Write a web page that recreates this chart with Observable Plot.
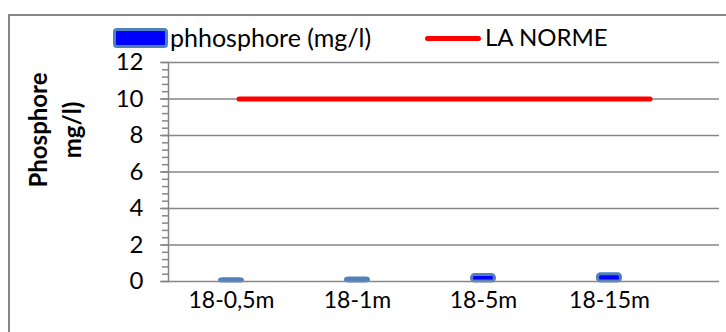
<!DOCTYPE html>
<html>
<head>
<meta charset="utf-8">
<script src="https://cdn.jsdelivr.net/npm/d3@7"></script>
<script src="https://cdn.jsdelivr.net/npm/@observablehq/plot@0.6"></script>
<style>
  html, body { margin: 0; padding: 0; background: #fff; }
  #chart { position: relative; width: 726px; height: 332px; overflow: hidden; background: #fff;
           font-family: Lato, "Liberation Sans", sans-serif; }
  #chart svg { position: absolute; left: 0; top: 0; }
  .border { position: absolute; left: 8px; top: 14px; width: 730px; height: 330px;
            border: 2px solid #868686; box-sizing: border-box; }
  .ytitle { position: absolute; left: 55px; top: 130px; width: 200px;
            transform: translate(-50%, -50%) rotate(-90deg); text-align: center;
            font-weight: bold; font-size: 24px; line-height: 34px; color: #000; }
  .legend { position: absolute; font-size: 24px; color: #000; white-space: nowrap; }
  .sw-bar { position: absolute; left: 113px; top: 28px; width: 55px; height: 20px;
            background: #0000ff; border: 3px solid #4f81bd; border-radius: 4px; box-sizing: border-box; }
  .sw-line { position: absolute; left: 425px; top: 36px; width: 56px; height: 5px;
             background: #ff0000; border-radius: 3px; }
</style>
</head>
<body>
<div id="chart">
  <div class="border"></div>
</div>
<script>
// Sampling points and measured phosphorus (mg/l)
const categories = ["18-0,5m", "18-1m", "18-5m", "18-15m"];
const phosphore = [0.12, 0.17, 0.35, 0.4];
// Regulatory limit
const norme = [10, 10, 10, 10];
// Value axis ticks
const yTicks = [0, 2, 4, 6, 8, 10, 12];
const yMinorTicks = d3.range(0, 12.01, 0.4);

const seriesName = "phhosphore (mg/l)";
const normeName = "LA NORME";
const yTitle = ["Phosphore", "mg/l)"];

const bars = categories.map((c, i) => ({cat: c, v: phosphore[i]}));
const limit = categories.map((c, i) => ({cat: c, v: norme[i]}));

const W = 726, H = 332;
const margins = {marginTop: 62, marginBottom: 51, marginLeft: 168, marginRight: 7};
const font = {fontFamily: "Lato, 'Liberation Sans', sans-serif", fontSize: "24px", background: "transparent", overflow: "visible"};
const grey = "#868686";

const main = Plot.plot({
  width: W, height: H, ...margins,
  style: font,
  x: {type: "band", domain: categories, range: [167, 672], padding: 0, axis: null},
  y: {domain: [0, 12], axis: null},
  marks: [
    Plot.ruleY(yTicks.filter(d => d > 0), {stroke: grey, strokeWidth: 1.5}),
    Plot.barY(bars, {x: "cat", y: "v", fill: "#0000ff", stroke: "#4f81bd", strokeWidth: 3,
                     rx: 3, insetLeft: 51.5, insetRight: 51.5}),
    Plot.ruleY([0], {stroke: grey, strokeWidth: 1.5}),
    Plot.frame({anchor: "left", stroke: grey, strokeWidth: 1.5}),
    Plot.axisY({ticks: yMinorTicks, tickSize: 6, tickFormat: () => "", stroke: grey, strokeWidth: 1.5, label: null}),
    Plot.axisY({ticks: yTicks, tickSize: 8, tickPadding: 17, stroke: grey, strokeWidth: 1.5,
                fill: "#000", fontSize: 24, label: null}),
    Plot.axisX({tickSize: 0, tickPadding: 10, fill: "#000", fontSize: 23, label: null})
  ]
});

// The limit series runs on its own category axis spanning the full plot width
const overlay = Plot.plot({
  width: W, height: H, ...margins,
  style: font,
  x: {type: "band", domain: categories, padding: 0, axis: null},
  y: {domain: [0, 12], axis: null},
  marks: [
    Plot.lineY(limit, {x: "cat", y: "v", stroke: "#ff0000", strokeWidth: 5, strokeLinecap: "round"})
  ]
});

const chart = document.getElementById("chart");
chart.appendChild(main);
chart.appendChild(overlay);

const t = document.createElement("div");
t.className = "ytitle";
t.innerHTML = yTitle.join("<br>");
chart.appendChild(t);

const sb = document.createElement("div"); sb.className = "sw-bar"; chart.appendChild(sb);
const l1 = document.createElement("div"); l1.className = "legend";
l1.style.left = "170px"; l1.style.top = "22px"; l1.style.fontSize = "25px";
l1.textContent = seriesName; chart.appendChild(l1);
const sl = document.createElement("div"); sl.className = "sw-line"; chart.appendChild(sl);
const l2 = document.createElement("div"); l2.className = "legend";
l2.style.left = "485px"; l2.style.top = "22px"; l2.textContent = normeName; chart.appendChild(l2);
</script>
</body>
</html>
